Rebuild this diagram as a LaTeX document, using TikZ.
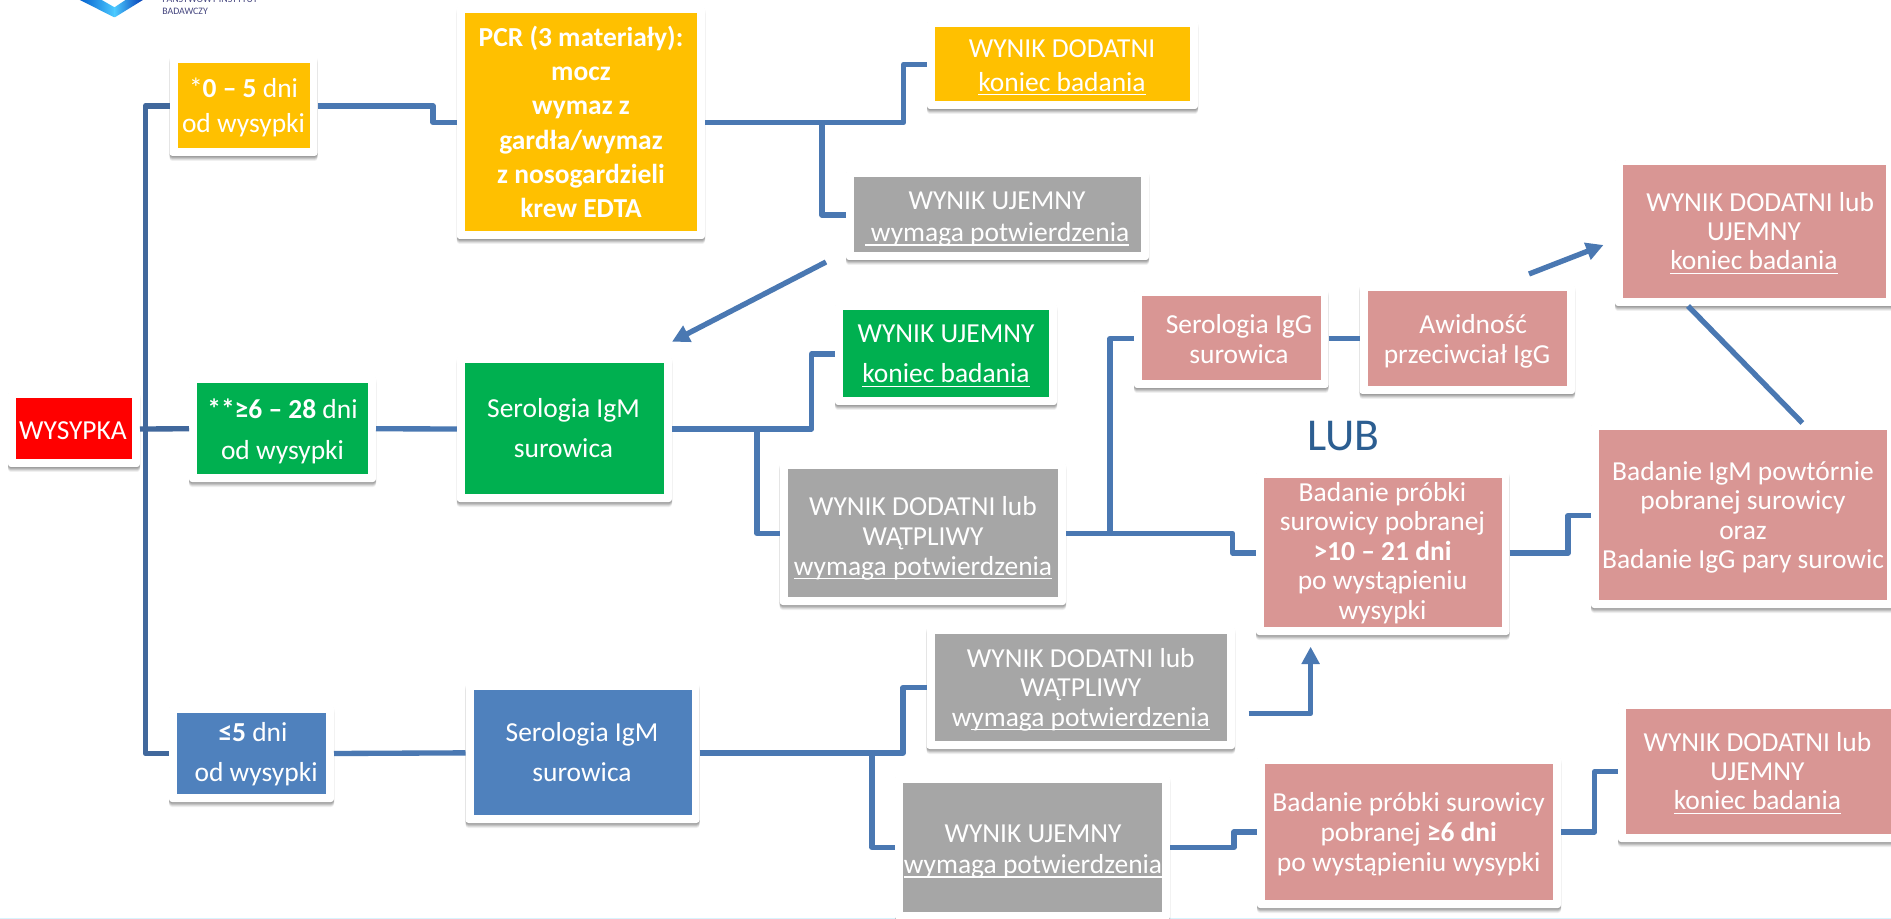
\documentclass[tikz,border=0pt]{standalone}
\usepackage{fontspec}
\setmainfont{Carlito}
\usetikzlibrary{arrows.meta,fit}
\definecolor{cOrange}{HTML}{FFC000}
\definecolor{cGreen}{HTML}{00B050}
\definecolor{cRed}{HTML}{FF0000}
\definecolor{cBlue}{HTML}{4F81BD}
\definecolor{cGray}{HTML}{A6A6A6}
\definecolor{cPink}{HTML}{D99694}
\definecolor{cLine}{HTML}{4A78B2}
\definecolor{cTrunk}{HTML}{41689C}
\definecolor{cLub}{HTML}{2C5E91}
\definecolor{cNavy}{HTML}{45467F}
\newcommand\ulx[1]{\sbox0{#1}\rlap{\rule[-3pt]{\wd0}{1pt}}\usebox0}
\newcommand\pcard[6]{%
  \foreach \k/\o in {1/.10,2/.10,3/.10,4/.08,5/.06}{
    \fill[black,opacity=\o,rounded corners=2.25pt] (#2,#3+\k) rectangle (#4,#5+\k);}
  \node[outercard,fit={(#2,#3)(#4,#5)}] (#1) {};
  \node[innercard,fill=#6,fit={(#2+8,#3+7.5)(#4-8,#5-8)}] (#1-i) {};
}
\tikzset{
  outercard/.style={fill=white,rounded corners=2.25pt,inner sep=0pt,outer sep=0pt},
  innercard/.style={inner sep=0pt,outer sep=0pt},
  txt/.style={text=white,align=center,inner sep=0pt,font=\fontsize{20.6}{#1}\selectfont,
     execute at begin node=\strut,execute at end node=\strut},
  conn/.style={draw=cLine,line width=4pt,line join=round},
  trunkline/.style={draw=cTrunk,line width=4pt,line join=round},
  arrowline/.style={draw=cLine,line width=4pt,line join=round,-{Triangle[length=13pt,width=13pt]}},
  logotext/.style={text=cNavy,anchor=base west,inner sep=0pt,font=\fontsize{7.4}{9}\selectfont},
}
\begin{document}
\begin{tikzpicture}[x=0.75pt,y=-0.75pt]
\useasboundingbox (0,0) rectangle (1891,919);
\fill[white] (0,0) rectangle (1891,919);
\fill[fill=cyan!15] (0,917.5) rectangle (1891,919);
\shade[left color=blue!55!cyan!80!black,right color=cyan!70!blue!70] (78,-1) -- (114.5,17.5) -- (114.5,7.3) -- (100,-1) -- cycle;
\shade[left color=cyan!70!blue!70,right color=blue!70!cyan!70!black] (114.5,17.5) -- (144.5,-1) -- (127,-1) -- (114.5,7.3) -- cycle;
\node[logotext] (logoa) at (162,3) {PAŃSTWOWY INSTYTUT};
\node[logotext] (logob) at (162,14.5) {BADAWCZY};
\pcard{red}{8}{391}{140}{467}{cRed}
\pcard{oa}{169.5}{55.7}{317.5}{156}{cOrange}
\pcard{ga}{189}{375.5}{376}{482}{cGreen}
\pcard{ba}{169}{705}{334}{802}{cBlue}
\pcard{pcr}{456.8}{6}{705}{239}{cOrange}
\pcard{gb}{456.8}{356}{672}{502}{cGreen}
\pcard{bb}{465.5}{682.7}{699.5}{823}{cBlue}
\pcard{od}{927}{20}{1198}{109}{cOrange}
\pcard{gu}{846}{170}{1149}{260}{cGray}
\pcard{gr}{835}{303}{1057}{405}{cGreen}
\pcard{gd}{779.7}{462}{1066}{605}{cGray}
\pcard{si}{1134}{289}{1328.5}{388}{cPink}
\pcard{av}{1359.5}{284}{1575}{394}{cPink}
\pcard{tr}{1615}{158}{1894}{306}{cPink}
\pcard{igm}{1591}{423}{1895}{608}{cPink}
\pcard{pd}{1256}{471}{1509.5}{635}{cPink}
\pcard{ge}{926.5}{626}{1235}{749}{cGray}
\pcard{uj}{895}{775}{1170}{920}{cGray}
\pcard{ps}{1257}{756}{1561}{908}{cPink}
\pcard{rb}{1618}{701}{1900}{842}{cPink}
\coordinate (ja) at (145.5,429);
\coordinate (jb) at (433,114);
\coordinate (jc) at (903.6,90);
\coordinate (jd) at (822,122.5);
\coordinate (je) at (811.6,400);
\coordinate (jf) at (757,429);
\coordinate (jg) at (1232.7,540);
\coordinate (jh) at (1110,533.5);
\coordinate (ji) at (1568,530);
\coordinate (jj) at (903,720);
\coordinate (jk) at (872,753);
\coordinate (jl) at (1234,840);
\coordinate (jm) at (1594.7,800);
\coordinate (sa) at (826,262);
\coordinate (ea) at (672,341.7);
\coordinate (sb) at (1529,274);
\coordinate (eb) at (1603.5,245);
\coordinate (sc) at (1248.7,713.5);
\coordinate (ec) at (1310.6,646.7);
\coordinate (la) at (1688,306);
\coordinate (lb) at (1802.4,423);
\draw[trunkline] (oa.west) -| (ja) |- (ba.west);
\draw[trunkline] (red.east) -- (ga.west);
\draw[conn] (oa.east) -| (jb) |- (pcr.west);
\draw[conn] (pcr.east) -| (jc) |- (od.west);
\draw[conn] (jd) |- (gu.west);
\draw[arrowline] (sa) -- (ea);
\draw[conn] (ga.east) -- (gb.west);
\draw[conn] (gb.east) -| (je) |- (gr.west);
\draw[conn] (jf) |- (gd.west);
\draw[conn] (gd.east) -| (jg) |- (pd.west);
\draw[conn] (jh) |- (si.west);
\draw[conn] (si.east) -- (si.east -| av.west);
\draw[arrowline] (sb) -- (eb);
\draw[conn] (la) -- (lb);
\draw[conn] (pd.east) -| (ji) |- (igm.west);
\draw[conn] (ba.east) -- (bb.west);
\draw[conn] (bb.east) -| (jj) |- (ge.west);
\draw[conn] (jk) |- (uj.west);
\draw[arrowline] (sc) -| (ec);
\draw[conn] (uj.east) -| (jl) |- (ps.west);
\draw[conn] (ps.east) -| (jm) |- (rb.west);
\node[txt=26.25] (tred) at (73,433) {WYSYPKA};
\node[txt=26.25] (toa) at (243.5,111) {*\textbf{0 – 5} dni\\od wysypki};
\node[txt=30.75] (tga) at (282.5,435) {\textbf{**≥6 – 28} dni\\od wysypki};
\node[txt=30] (tba) at (253,758) {\textbf{≤5} dni\\\ od wysypki};
\node[txt=25.7] (tpcr) at (581,127) {\textbf{PCR (3 materiały):}\\\textbf{mocz}\\\textbf{wymaz z}\\\textbf{gardła/wymaz}\\\textbf{z nosogardzieli}\\\textbf{krew EDTA}};
\node[txt=30] (tgb) at (563.5,434) {Serologia IgM\\surowica};
\node[txt=30.4] (tbb) at (582,758) {Serologia IgM\\surowica};
\node[txt=25.5] (tod) at (1062,70.5) {WYNIK DODATNI\\\ulx{koniec badania}};
\node[txt=24] (tgu) at (997,221.5) {WYNIK UJEMNY\\\ulx{\ wymaga potwierdzenia}};
\node[txt=30.4] (tgr) at (946,360) {WYNIK UJEMNY\\\ulx{koniec badania}};
\node[txt=22.5] (tgd) at (923,540) {WYNIK DODATNI lub\\WĄTPLIWY\\\ulx{wymaga potwierdzenia}};
\node[txt=22.5] (tsi) at (1239,343.5) {Serologia IgG\\surowica};
\node[txt=22.3] (tav) at (1467,343.5) {\ \ Awidność\\przeciwciał IgG};
\node[txt=21.9] (ttr) at (1754,235.5) {\ \ WYNIK DODATNI lub\\UJEMNY\\\ulx{koniec badania}};
\node[txt=22] (tigm) at (1743,519.5) {Badanie IgM powtórnie\\pobranej surowicy\\oraz\\Badanie IgG pary surowic};
\node[txt=22.1] (tpd) at (1382.5,555) {Badanie próbki\\surowicy pobranej\\\textbf{>10 – 21 dni}\\po wystąpieniu\\wysypki};
\node[txt=22.1] (tge) at (1080.8,691.5) {WYNIK DODATNI lub\\WĄTPLIWY\\w\ulx{ymaga potwierdzenia}};
\node[txt=23.25] (tuj) at (1033,854) {WYNIK UJEMNY\\\ulx{wymaga potwierdzenia}};
\node[txt=22.5] (tps) at (1408.7,836) {Badanie próbki surowicy\\pobranej \textbf{≥6 dni}\\po wystąpieniu wysypki};
\node[txt=21.9] (trb) at (1757.4,775.5) {WYNIK DODATNI lub\\UJEMNY\\\ulx{koniec badania}};
\node[text=cLub,inner sep=0pt,font=\fontsize{34.2}{40}\selectfont] (lub) at (1343.6,436) {LUB};
\end{tikzpicture}
\end{document}
